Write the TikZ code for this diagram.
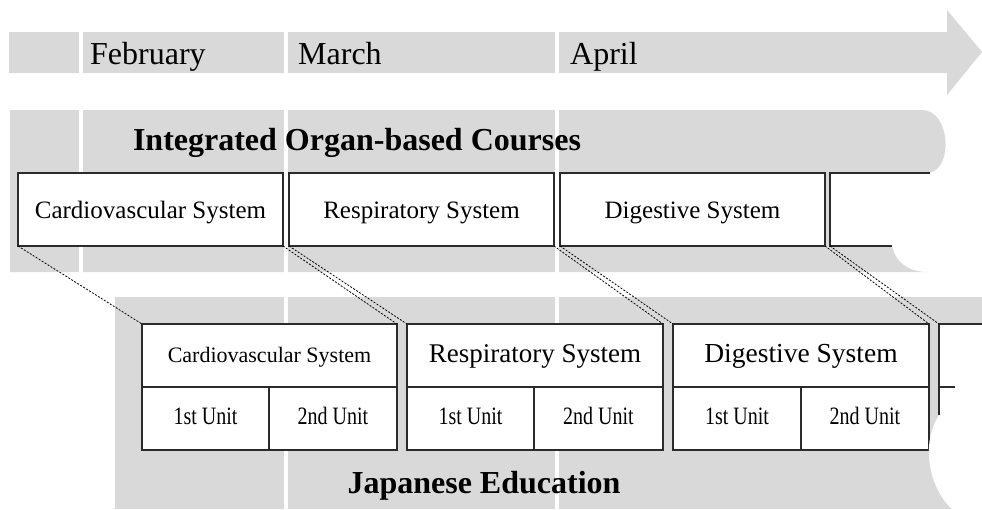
\documentclass[tikz,border=0pt]{standalone}
\usepackage{fontspec}
\setmainfont{Liberation Serif}
\usepackage{graphicx}
\definecolor{bandgray}{HTML}{D9D9D9}
\definecolor{lineclr}{HTML}{2B2B2B}
\begin{document}
\begin{tikzpicture}[x=1pt,y=-1pt,
  month/.style={anchor=base west, inner sep=0, font=\fontsize{32}{36}\selectfont},
  bandtitle/.style={anchor=base, inner sep=0, font=\bfseries\fontsize{32}{36}\selectfont},
  sep/.style={white, line width=4pt},
  boxline/.style={draw=lineclr, line width=1.3pt},
  boxbase/.style={boxline, fill=white, anchor=north west, inner sep=0, outer sep=0},
  topbox/.style={boxbase, minimum width=265pt, minimum height=73pt, text height=45pt, text depth=28pt, font=\fontsize{25}{28}\selectfont},
  midbox/.style={boxbase, minimum height=63pt, text height=38pt, text depth=25pt},
  unitbox/.style={boxbase, minimum height=63pt, text height=37pt, text depth=26pt, font=\fontsize{25}{28}\selectfont},
  conn/.style={draw=black, line width=0.8pt, dash pattern=on 2pt off 1.5pt}
]
\useasboundingbox (0,0) rectangle (982,509);
% time arrow
\fill[bandgray] (9,32) -- (947,32) -- (947,10) -- (982,52) -- (947,95) -- (947,73) -- (9,73) -- cycle;
% integrated band
\fill[bandgray] (10,110) -- (922,110) .. controls (950,110) and (954,168) .. (929,173) -- (892,246) .. controls (896,264) and (910,272) .. (928,272) -- (10,272) -- cycle;
% japanese band
\fill[bandgray] (115,297) rectangle (982,509);
% separators
\foreach \sx in {81,285.5,556.5} { \draw[sep] (\sx,0) -- (\sx,509); }
% months
\node[month] (feb) at (90,64) {February};
\node[month] (mar) at (298,64) {March};
\node[month] (apr) at (570,64) {April};
% band titles
\node[bandtitle] (iobc) at (357,150) {Integrated Organ-based Courses};
\node[bandtitle] (jped) at (484,493) {Japanese Education};
% row 1 boxes
\node[topbox] (r1a) at (18,173) {Cardiovascular System};
\node[topbox] (r1b) at (289,173) {Respiratory System};
\node[topbox] (r1c) at (560,173) {Digestive System};
\fill[white] (830,173) rectangle (930,246);
\draw[boxline] (930,173) -- (830,173) -- (830,246) -- (892,246);
\coordinate (r1d) at (830,246);
% row 2 boxes
\node[midbox, minimum width=255pt, font=\fontsize{22}{26}\selectfont] (r2a) at (142,324) {Cardiovascular System};
\node[midbox, minimum width=256pt, font=\fontsize{27}{30}\selectfont] (r2b) at (407,324) {Respiratory System};
\node[midbox, minimum width=256pt, font=\fontsize{27.5}{30}\selectfont] (r2c) at (673,324) {Digestive System};
\node[unitbox, minimum width=127pt] (u1a) at (142,387) {\scalebox{0.8}[1]{1st Unit}};
\node[unitbox, minimum width=128pt] (u2a) at (269,387) {\scalebox{0.8}[1]{2nd Unit}};
\node[unitbox, minimum width=127pt] (u1b) at (407,387) {\scalebox{0.8}[1]{1st Unit}};
\node[unitbox, minimum width=129pt] (u2b) at (534,387) {\scalebox{0.8}[1]{2nd Unit}};
\node[unitbox, minimum width=128pt] (u1c) at (673,387) {\scalebox{0.8}[1]{1st Unit}};
\node[unitbox, minimum width=128pt] (u2c) at (801,387) {\scalebox{0.8}[1]{2nd Unit}};
% partial fourth box, row 2
\fill[white] (939,324) rectangle (982,415);
\fill[white] (939,415) .. controls (931,428) and (928,442) .. (929,458) .. controls (931,480) and (940,498) .. (952,509) -- (982,509) -- (982,415) -- cycle;
\draw[boxline] (982,324) -- (939,324) -- (939,415);
\draw[boxline] (939,387) -- (955,387);
\coordinate (r2d) at (939,324);
% connectors
\draw[conn] (r1a.south west) -- (r2a.north west);
\draw[conn] (r1a.south east) -- (r2a.north east);
\draw[conn] (r1b.south west) -- (r2b.north west);
\draw[conn] (r1b.south east) -- (r2b.north east);
\draw[conn] (r1c.south west) -- (r2c.north west);
\draw[conn] (r1c.south east) -- (r2c.north east);
\draw[conn] (r1d) -- (r2d);
\end{tikzpicture}
\end{document}
